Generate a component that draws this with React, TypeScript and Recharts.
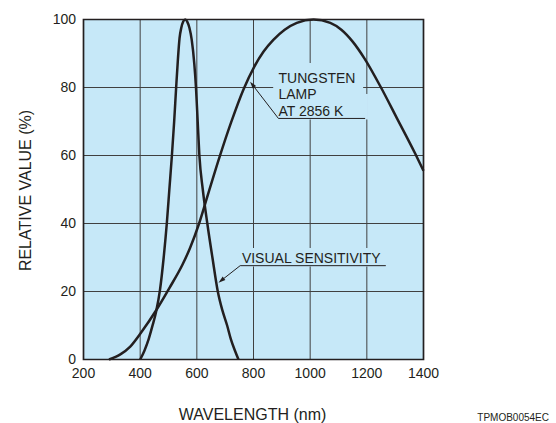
import React from 'react';
import {
  LineChart,
  Line,
  XAxis,
  YAxis,
  CartesianGrid,
  ReferenceArea,
  ReferenceLine,
  Label,
} from 'recharts';

// Tungsten lamp (2856 K) relative spectral output
const lampWavelengths = [290, 330, 365, 404, 456, 503, 550, 576, 608, 641, 680, 720, 765, 802, 835, 870, 910, 953, 1012, 1071, 1110, 1150, 1192, 1250, 1306, 1371, 1400];
const lampValues = [0, 1.5, 3.8, 8, 14.4, 21, 28, 32.8, 40, 49, 59.5, 69.5, 79.5, 86, 90.5, 94, 97, 99, 100, 99, 97, 93.5, 88.5, 80, 71, 60.5, 55.5];

// Human eye photopic sensitivity
const visualWavelengths = [400, 415, 430, 443, 456, 470, 483, 494, 503, 512, 520, 527, 533, 539, 545, 552, 559, 566, 574, 582, 591, 597, 603, 609, 621, 637, 655, 674, 690, 707, 720, 735, 747];
const visualValues = [0, 2.6, 6, 9.8, 14, 20.5, 30, 40, 50, 60, 70, 80, 88, 94.5, 97.5, 99.4, 100, 99.4, 97.5, 94, 87, 80, 70, 60, 50, 40, 30, 20, 14.5, 10, 6, 2.5, 0];

const wavelengthTicks = [200, 400, 600, 800, 1000, 1200, 1400];
const valueTicks = [0, 20, 40, 60, 80, 100];

const lampData = lampWavelengths.map((wl, i) => ({ wl, v: lampValues[i] }));
const visualData = visualWavelengths.map((wl, i) => ({ wl, v: visualValues[i] }));

const INK = '#231f20';
const PLOT_BG = '#c6e8f8';
const FONT = '"Liberation Sans", Arial, Helvetica, sans-serif';

const ArrowLine = (props: any) => {
  const { x1, y1, x2, y2 } = props;
  const dx = x2 - x1;
  const dy = y2 - y1;
  const len = Math.sqrt(dx * dx + dy * dy) || 1;
  const ux = dx / len;
  const uy = dy / len;
  const headLen = 7;
  const headHalf = 2.2;
  const bx = x2 - ux * headLen;
  const by = y2 - uy * headLen;
  const px = -uy * headHalf;
  const py = ux * headHalf;
  return (
    <g>
      <line x1={x1} y1={y1} x2={bx} y2={by} stroke={INK} strokeWidth={1} />
      <polygon
        points={`${x2},${y2} ${bx + px},${by + py} ${bx - px},${by - py}`}
        fill={INK}
      />
    </g>
  );
};

const tungstenText = (props: any) => {
  const { x, y } = props.viewBox;
  return (
    <g fontFamily={FONT} fontSize={14} fill={INK}>
      <text x={x + 5.3} y={y + 19.7}>TUNGSTEN</text>
      <text x={x + 5.3} y={y + 36.3}>LAMP</text>
      <text x={x + 5.3} y={y + 53}>AT 2856 K</text>
    </g>
  );
};

const visualText = (props: any) => {
  const { x, y } = props.viewBox;
  return (
    <text x={x + 1.7} y={y + 15.3} fontFamily={FONT} fontSize={14} fill={INK}>
      VISUAL SENSITIVITY
    </text>
  );
};

const yTitle = (props: any) => {
  const { x, y, height } = props.viewBox;
  const cx = x + 25;
  const cy = y + height / 2 + 1;
  return (
    <text
      x={cx}
      y={cy}
      transform={`rotate(-90 ${cx} ${cy})`}
      textAnchor="middle"
      dominantBaseline="central"
      fontFamily={FONT}
      fontSize={16}
      fill={INK}
    >
      RELATIVE VALUE (%)
    </text>
  );
};

const xTitle = (props: any) => {
  const { x, y } = props.viewBox;
  return (
    <text x={x + 169} y={y + 60.5} textAnchor="middle" fontFamily={FONT} fontSize={16} fill={INK}>
      WAVELENGTH (nm)
    </text>
  );
};

const codeTag = (props: any) => {
  const { x, y } = props.viewBox;
  return (
    <text x={x + 465.5} y={y + 61} textAnchor="end" fontFamily={FONT} fontSize={10} fill={INK}>
      TPMOB0054EC
    </text>
  );
};

export default function App() {
  return (
    <div style={{ position: 'absolute', left: 0, top: 0 }}>
      <LineChart
        width={556}
        height={423}
        margin={{ top: 19.5, right: 132.5, bottom: 33.5, left: 0 }}
      >
        <CartesianGrid fill={PLOT_BG} fillOpacity={1} stroke="#404040" strokeWidth={1} />
        <XAxis
          type="number"
          dataKey="wl"
          domain={[200, 1400]}
          ticks={wavelengthTicks}
          interval={0}
          height={30}
          axisLine={false}
          tickLine={false}
          tickSize={6}
          tickMargin={3}
          tick={{ fill: INK, fontSize: 14, fontFamily: FONT }}
        >
          <Label content={xTitle} />
          <Label content={codeTag} />
        </XAxis>
        <YAxis
          type="number"
          domain={[0, 100]}
          ticks={valueTicks}
          interval={0}
          width={83.5}
          axisLine={false}
          tickLine={false}
          tickSize={6}
          tickMargin={1.5}
          tick={{ fill: INK, fontSize: 14, fontFamily: FONT }}
        >
          <Label content={yTitle} />
        </YAxis>

        {/* background patches behind the callout text */}
        <ReferenceArea x1={869.5} x2={1187} y1={70.6} y2={87.2} fill={PLOT_BG} fillOpacity={1} stroke="none">
          <Label content={tungstenText} />
        </ReferenceArea>
        <ReferenceArea x1={1184} x2={1204} y1={70.6} y2={78.1} fill={PLOT_BG} fillOpacity={1} stroke="none" />
        <ReferenceArea x1={753} x2={1268} y1={27.35} y2={32.8} fill={PLOT_BG} fillOpacity={1} stroke="none">
          <Label content={visualText} />
        </ReferenceArea>

        {/* callout underlines and leaders */}
        <ReferenceLine segment={[{ x: 888, y: 70.9 }, { x: 1194, y: 70.9 }]} stroke={INK} strokeWidth={1} />
        <ReferenceLine segment={[{ x: 888, y: 70.9 }, { x: 788, y: 81.7 }]} stroke={INK} shape={ArrowLine} />
        <ReferenceLine segment={[{ x: 753, y: 27.6 }, { x: 1267, y: 27.6 }]} stroke={INK} strokeWidth={1} />
        <ReferenceLine segment={[{ x: 753, y: 27.6 }, { x: 676.5, y: 22.6 }]} stroke={INK} shape={ArrowLine} />

        <Line
          data={lampData}
          dataKey="v"
          type="monotone"
          stroke={INK}
          strokeWidth={2.5}
          dot={false}
          activeDot={false}
          isAnimationActive={false}
        />
        <Line
          data={visualData}
          dataKey="v"
          type="monotone"
          stroke={INK}
          strokeWidth={2.5}
          dot={false}
          activeDot={false}
          isAnimationActive={false}
        />

        {/* plot frame */}
        <ReferenceArea x1={200} x2={1400} y1={0} y2={100} fill="none" stroke={INK} strokeWidth={1.7} />
      </LineChart>
    </div>
  );
}
